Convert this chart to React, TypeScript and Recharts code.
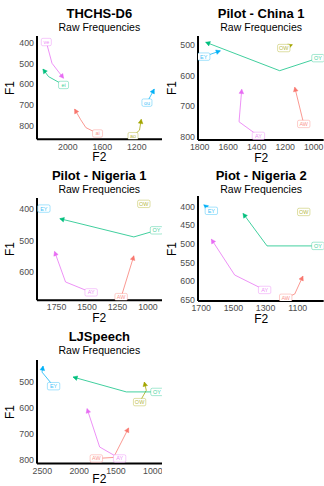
import React from "react";
import { ComposedChart, Line, Scatter, XAxis, YAxis } from "recharts";

// vowel trajectories, one array per panel; first point = onset (label), last point = arrow
const THCHS_VOWELS = ["ai", "ao", "ei", "ou", "ve"];
const THCHS_F2 = [[1655, 1790, 1850, 1921], [1244, 1168, 1148], [2049, 2223, 2288], [1082, 997], [2249, 2183, 2049]];
const THCHS_F1 = [[836, 808, 770, 719], [849, 820, 768], [603, 563, 527], [688, 623], [397, 499, 571]];
const THCHS_F2_TICKS = [2000, 1600, 1200];
const THCHS_F1_TICKS = [400, 500, 600, 700, 800];

const PILOT_VOWELS = ["AW", "AY", "EY", "OW", "OY"];

const CHINA1_F2 = [[1070, 1133], [1388, 1524, 1505], [1772, 1655], [1210, 1150], [970, 1239, 1758]];
const CHINA1_F1 = [[758, 638], [797, 751, 645], [538, 519], [510, 499], [543, 584, 491]];
const CHINA1_F2_TICKS = [1800, 1600, 1400, 1200, 1000];
const CHINA1_F1_TICKS = [500, 600, 700, 800];

const NIGERIA1_F2 = [[1220, 1116], [1466, 1676, 1766], [1854], [1034], [930, 1116, 1723]];
const NIGERIA1_F1 = [[680, 549], [665, 632, 535], [399], [384], [468, 489, 431]];
const NIGERIA1_F2_TICKS = [1750, 1500, 1250, 1000];
const NIGERIA1_F1_TICKS = [400, 500, 600];

const NIGERIA2_F2 = [[1175, 1119, 1068], [1306, 1492, 1637], [1637, 1684], [1063], [975, 1291, 1440]];
const NIGERIA2_F1 = [[644, 634, 586], [623, 583, 487], [411, 395], [414], [505, 505, 418]];
const NIGERIA2_F2_TICKS = [1700, 1500, 1300, 1100];
const NIGERIA2_F1_TICKS = [400, 450, 500, 550, 600, 650];

const LJ_F2 = [[1767, 1533, 1329], [1451, 1722, 1893], [2347, 2504, 2490], [1180, 1089, 1116], [944, 1360, 2083]];
const LJ_F1 = [[793, 789, 676], [793, 749, 602], [516, 462, 439], [577, 532, 500], [538, 538, 481]];
const LJ_F2_TICKS = [2500, 2000, 1500, 1000];
const LJ_F1_TICKS = [500, 600, 700, 800];

const COLORS: Record<string, string> = {
  ai: "#F8766D", AW: "#F8766D",
  ao: "#A3A500", OW: "#A3A500",
  ei: "#00BF7D", OY: "#00BF7D",
  ou: "#00B0F6", EY: "#00B0F6",
  ve: "#E76BF3", AY: "#E76BF3",
};

const FONT = '"Liberation Sans", Arial, sans-serif';
const AXIS_W = 40;
const TOP_PAD = 4;
const X_H = 22;

type Box = { left: number; top: number; right: number; bottom: number };

function CenterText({ x, y, size, weight, color, rotate, children }: any) {
  return (
    <div
      style={{
        position: "absolute",
        left: x,
        top: y,
        transform: `translate(-50%, -50%)${rotate ? " rotate(-90deg)" : ""}`,
        fontSize: size,
        fontWeight: weight,
        color,
        whiteSpace: "nowrap",
        lineHeight: 1,
        fontFamily: FONT,
      }}
    >
      {children}
    </div>
  );
}

function arrowDot(color: string) {
  return (props: any) => {
    const { cx, cy, index, points } = props;
    const key = `dot-${index}`;
    if (!points || points.length < 2 || index !== points.length - 1) return <g key={key} />;
    const prev = points[index - 1];
    const ang = Math.atan2(cy - prev.y, cx - prev.x);
    const len = 4.2;
    const half = 2.3;
    const bx = cx - len * Math.cos(ang);
    const by = cy - len * Math.sin(ang);
    const nx = -Math.sin(ang) * half;
    const ny = Math.cos(ang) * half;
    return (
      <polygon
        key={key}
        points={`${cx},${cy} ${bx + nx},${by + ny} ${bx - nx},${by - ny}`}
        fill={color}
        stroke={color}
        strokeWidth={0.5}
      />
    );
  };
}

function VowelLabel(props: any) {
  const { cx, cy, payload } = props;
  const v: string = payload.vowel;
  const color = COLORS[v];
  const w = v.split("").reduce((s, c) => s + (c === c.toUpperCase() ? 4.2 : 3), 0) + 4;
  const h = 7.4;
  return (
    <g>
      <rect x={cx - w / 2} y={cy - h / 2} width={w} height={h} rx={1.5} fill="#fff" stroke={color} strokeOpacity={0.6} strokeWidth={0.6} />
      <text x={cx} y={cy + 2} textAnchor="middle" fontSize={5.5} fill={color} fillOpacity={0.8} fontFamily={FONT}>
        {v}
      </text>
    </g>
  );
}

function Panel({ title, vowels, f2, f1, xTicks, yTicks, xDomain, yDomain, box, titleY }: any) {
  const b: Box = box;
  const tracks = vowels.map((v: string, i: number) => f2[i].map((x: number, j: number) => ({ x, y: f1[i][j] })));
  const labels = vowels.map((v: string, i: number) => ({ x: f2[i][0], y: f1[i][0], vowel: v }));
  const tick = { fill: "#4D4D4D", fontSize: 8.8, fontFamily: FONT };
  const axisLine = { stroke: "#000", strokeWidth: 2 };
  const cx = (b.left + b.right) / 2;
  const colX = b.left > 162 ? 171.5 : 9.5;
  return (
    <>
      <CenterText x={cx} y={titleY} size={13} weight="bold" color="#000">{title}</CenterText>
      <CenterText x={cx} y={titleY + 14.2} size={10.5} weight="normal" color="#000">Raw Frequencies</CenterText>
      <CenterText x={colX} y={(b.top + b.bottom) / 2} size={12} weight="normal" color="#000" rotate>F1</CenterText>
      <CenterText x={cx} y={Math.min(b.bottom + 17.7, 479)} size={12} weight="normal" color="#000">F2</CenterText>
      <div style={{ position: "absolute", left: b.left - AXIS_W, top: b.top - TOP_PAD }}>
        <ComposedChart
          width={AXIS_W + b.right - b.left}
          height={TOP_PAD + b.bottom - b.top + X_H}
          margin={{ top: TOP_PAD, right: 0, bottom: 0, left: 0 }}
        >
          <XAxis
            type="number"
            dataKey="x"
            domain={xDomain}
            reversed
            allowDataOverflow
            ticks={xTicks}
            interval={0}
            height={X_H}
            tickLine={false}
            tickSize={0}
            tickMargin={4}
            axisLine={axisLine}
            tick={tick}
          />
          <YAxis
            type="number"
            dataKey="y"
            domain={yDomain}
            reversed
            allowDataOverflow
            ticks={yTicks}
            interval={0}
            width={AXIS_W}
            tickLine={false}
            tickSize={0}
            tickMargin={3}
            axisLine={axisLine}
            tick={tick}
          />
          {tracks.map((t: any[], i: number) => (
            <Line
              key={vowels[i]}
              data={t}
              dataKey="y"
              stroke={COLORS[vowels[i]]}
              strokeOpacity={0.75}
              strokeWidth={1}
              dot={arrowDot(COLORS[vowels[i]])}
              activeDot={false}
              legendType="none"
              isAnimationActive={false}
            />
          ))}
          <Scatter data={labels} dataKey="y" shape={VowelLabel} isAnimationActive={false} />
        </ComposedChart>
      </div>
    </>
  );
}

export default function App() {
  return (
    <div style={{ position: "absolute", left: 0, top: 0, width: 324, height: 486, background: "#fff", overflow: "hidden", fontFamily: FONT }}>
      <Panel
        title="THCHS-D6"
        vowels={THCHS_VOWELS}
        f2={THCHS_F2}
        f1={THCHS_F1}
        xTicks={THCHS_F2_TICKS}
        yTicks={THCHS_F1_TICKS}
        xDomain={[904, 2357]}
        yDomain={[368, 864]}
        box={{ left: 36.7, top: 36, right: 162, bottom: 139.3 }}
        titleY={12.7}
      />
      <Panel
        title="Pilot - China 1"
        vowels={PILOT_VOWELS}
        f2={CHINA1_F2}
        f1={CHINA1_F1}
        xTicks={CHINA1_F2_TICKS}
        yTicks={CHINA1_F1_TICKS}
        xDomain={[930, 1812]}
        yDomain={[470.6, 810.5]}
        box={{ left: 198.3, top: 36, right: 324, bottom: 140 }}
        titleY={12.7}
      />
      <Panel
        title="Pilot - Nigeria 1"
        vowels={PILOT_VOWELS}
        f2={NIGERIA1_F2}
        f1={NIGERIA1_F1}
        xTicks={NIGERIA1_F2_TICKS}
        yTicks={NIGERIA1_F1_TICKS}
        xDomain={[881, 1910]}
        yDomain={[365.4, 689.8]}
        box={{ left: 36.5, top: 198.3, right: 162, bottom: 300.5 }}
        titleY={175}
      />
      <Panel
        title="Piot - Nigeria 2"
        vowels={PILOT_VOWELS}
        f2={NIGERIA2_F2}
        f1={NIGERIA2_F1}
        xTicks={NIGERIA2_F2_TICKS}
        yTicks={NIGERIA2_F1_TICKS}
        xDomain={[939, 1720]}
        yDomain={[371.3, 652.6]}
        box={{ left: 198.3, top: 196, right: 324, bottom: 301 }}
        titleY={175}
      />
      <Panel
        title="LJSpeech"
        vowels={PILOT_VOWELS}
        f2={LJ_F2}
        f1={LJ_F1}
        xTicks={LJ_F2_TICKS}
        yTicks={LJ_F1_TICKS}
        xDomain={[872, 2572]}
        yDomain={[415.7, 812.6]}
        box={{ left: 36.7, top: 359.7, right: 162, bottom: 463.3 }}
        titleY={336}
      />
    </div>
  );
}
